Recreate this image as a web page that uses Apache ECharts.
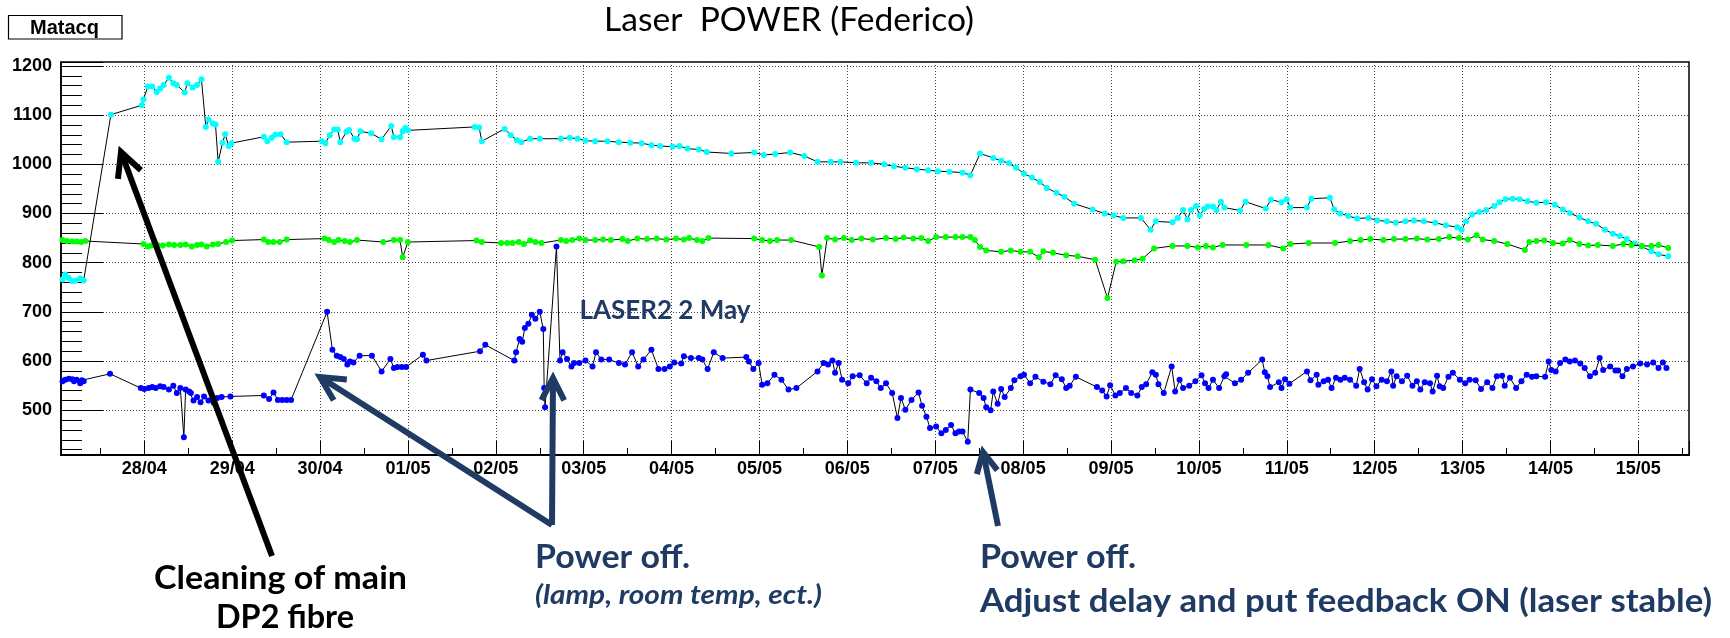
<!DOCTYPE html>
<html>
<head>
<meta charset="utf-8">
<title>Laser POWER (Federico)</title>
<script src="https://cdn.jsdelivr.net/npm/echarts@6/dist/echarts.min.js"></script>
<style>
  html, body { margin: 0; padding: 0; background: #fff; }
  #chart { width: 1730px; height: 638px; }
</style>
</head>
<body>
<div id="chart"></div>
<script>
// x = days since 27/04 00:00, y = Matacq laser power

// tick labels, one per day (index = day number)
const dayLabels = ['27/04', '28/04', '29/04', '30/04', '01/05', '02/05', '03/05', '04/05', '05/05', '06/05',
  '07/05', '08/05', '09/05', '10/05', '11/05', '12/05', '13/05', '14/05', '15/05']

// cyan series
const cyan = [
  [0.07, 766], [0.10, 776], [0.14, 769], [0.18, 762], [0.22, 764], [0.27, 768], [0.31, 764],
  [0.62, 1101], [0.97, 1120], [0.99, 1132], [1.04, 1158], [1.09, 1158], [1.14, 1147], [1.18, 1154], [1.22, 1161],
  [1.28, 1176], [1.33, 1165], [1.37, 1161], [1.46, 1146], [1.49, 1165], [1.55, 1156], [1.60, 1161], [1.65, 1173],
  [1.70, 1076], [1.73, 1091], [1.78, 1083], [1.81, 1081], [1.84, 1005], [1.89, 1044], [1.92, 1061], [1.96, 1037], [1.99, 1043],
  [2.36, 1056], [2.40, 1047], [2.45, 1054], [2.49, 1060], [2.55, 1061], [2.62, 1045],
  [3.02, 1047], [3.06, 1043], [3.11, 1059], [3.16, 1071], [3.20, 1071], [3.23, 1045], [3.30, 1066], [3.33, 1070],
  [3.39, 1052], [3.42, 1051], [3.46, 1067], [3.58, 1063], [3.70, 1051], [3.81, 1078], [3.84, 1055], [3.91, 1055],
  [3.94, 1067], [3.97, 1074], [4.00, 1069],
  [4.76, 1076], [4.81, 1075], [4.84, 1047], [5.10, 1072], [5.17, 1059], [5.24, 1049], [5.29, 1045], [5.39, 1052],
  [5.50, 1052], [5.74, 1052], [5.84, 1054], [5.93, 1052], [6.02, 1048],
  [6.13, 1047], [6.27, 1047], [6.40, 1045], [6.53, 1044], [6.66, 1043], [6.77, 1039], [6.87, 1037], [7.01, 1036],
  [7.09, 1037], [7.18, 1032], [7.31, 1030], [7.40, 1025],
  [7.68, 1022], [7.94, 1024], [8.05, 1019], [8.18, 1021], [8.35, 1024], [8.51, 1017], [8.66, 1005], [8.81, 1005],
  [8.92, 1005], [9.10, 1003], [9.27, 1003], [9.42, 1000], [9.53, 996], [9.66, 993], [9.79, 990], [9.92, 988],
  [10.03, 986], [10.16, 985], [10.31, 983], [10.40, 978],
  [10.51, 1022], [10.66, 1013], [10.75, 1007], [10.84, 1002], [10.92, 993], [11.01, 981], [11.10, 973], [11.19, 964],
  [11.27, 952], [11.38, 942], [11.47, 934], [11.58, 920], [11.79, 908], [11.93, 900], [12.03, 896], [12.14, 891],
  [12.34, 891], [12.45, 867], [12.51, 884],
  [12.70, 882], [12.76, 891], [12.82, 907], [12.87, 888], [12.91, 907], [12.97, 915], [13.01, 896], [13.06, 909],
  [13.10, 914], [13.16, 914], [13.20, 907], [13.25, 924], [13.29, 912], [13.47, 906], [13.53, 924], [13.76, 910],
  [13.82, 928], [13.94, 923], [14.00, 929], [14.04, 912], [14.23, 912], [14.28, 930], [14.49, 932],
  [14.54, 908], [14.61, 900], [14.70, 895], [14.80, 890], [14.93, 891], [15.03, 886], [15.14, 884], [15.24, 881],
  [15.35, 884], [15.45, 886], [15.56, 884], [15.69, 881], [15.81, 876], [15.94, 872], [15.99, 867],
  [16.04, 884], [16.11, 898], [16.19, 903], [16.27, 907], [16.36, 915], [16.42, 923], [16.49, 929], [16.57, 930],
  [16.65, 929], [16.74, 925], [16.84, 922], [16.95, 923], [17.05, 918], [17.14, 908], [17.22, 901], [17.33, 892],
  [17.43, 884], [17.52, 879], [17.62, 867], [17.71, 859], [17.79, 854], [17.87, 848], [17.96, 839], [18.04, 833],
  [18.15, 823], [18.23, 817], [18.34, 813]
]

// green series
const green = [
  [0.07, 846], [0.12, 844], [0.18, 843], [0.23, 843], [0.28, 842], [0.33, 844],
  [0.99, 838], [1.04, 833], [1.08, 835], [1.15, 836], [1.21, 835], [1.28, 837], [1.34, 836], [1.41, 836], [1.47, 837],
  [1.54, 833], [1.60, 836], [1.65, 837], [1.71, 833], [1.78, 837], [1.84, 838], [1.93, 842], [2.00, 845],
  [2.36, 847], [2.41, 842], [2.47, 842], [2.54, 842], [2.62, 847],
  [3.05, 849], [3.10, 846], [3.16, 842], [3.21, 846], [3.28, 844], [3.34, 842], [3.42, 846], [3.72, 842], [3.84, 846],
  [3.91, 846], [3.94, 811], [4.00, 842],
  [4.78, 845], [4.84, 842], [5.06, 840], [5.13, 840], [5.19, 840], [5.26, 842], [5.32, 838], [5.39, 845], [5.45, 842],
  [5.52, 840], [5.74, 846], [5.80, 844], [5.87, 846], [5.95, 849], [6.02, 846],
  [6.13, 846], [6.22, 847], [6.31, 846], [6.44, 848], [6.50, 844], [6.61, 849], [6.72, 848], [6.83, 849], [6.94, 847],
  [7.05, 849], [7.14, 847], [7.20, 850], [7.29, 846], [7.35, 844], [7.42, 850],
  [7.94, 849], [8.03, 846], [8.12, 844], [8.20, 846], [8.36, 846], [8.68, 832], [8.71, 774], [8.77, 850], [8.86, 847],
  [8.96, 850], [9.05, 846], [9.16, 849], [9.29, 847], [9.44, 850], [9.55, 848], [9.64, 851], [9.75, 849], [9.84, 850],
  [9.92, 844], [10.01, 852], [10.12, 852], [10.23, 852], [10.31, 852], [10.40, 852], [10.45, 846],
  [10.51, 832], [10.58, 825], [10.75, 822], [10.86, 825], [10.97, 822], [11.08, 822], [11.18, 811], [11.23, 823],
  [11.34, 820], [11.49, 815], [11.62, 813], [11.82, 806], [11.96, 728], [12.06, 802], [12.14, 803], [12.27, 805],
  [12.36, 808], [12.49, 829],
  [12.70, 834], [12.87, 834], [12.99, 831], [13.08, 834], [13.16, 831], [13.27, 836], [13.54, 836], [13.79, 836],
  [13.96, 829], [14.04, 838], [14.25, 840], [14.55, 840], [14.72, 844], [14.84, 846], [14.95, 848], [15.10, 846],
  [15.22, 848], [15.35, 848], [15.48, 849], [15.60, 847], [15.73, 848], [15.85, 852], [15.96, 850], [16.06, 847],
  [16.16, 856], [16.23, 847], [16.36, 844], [16.51, 838], [16.71, 826], [16.76, 842], [16.84, 844], [16.93, 845],
  [17.03, 840], [17.14, 839], [17.22, 846], [17.33, 838], [17.43, 835], [17.54, 836], [17.71, 834], [17.83, 838],
  [17.92, 836], [18.04, 834], [18.15, 834], [18.23, 836], [18.34, 830]
]

// blue series
const blue = [
  [0.07, 559], [0.10, 562], [0.14, 564], [0.18, 563], [0.20, 559], [0.23, 562], [0.27, 555], [0.29, 561], [0.31, 559],
  [0.61, 574],
  [0.96, 545], [1.00, 543], [1.05, 545], [1.09, 547], [1.13, 545], [1.18, 549], [1.22, 547], [1.28, 542], [1.33, 550],
  [1.37, 535], [1.41, 545], [1.45, 445], [1.47, 542], [1.51, 538], [1.53, 535], [1.56, 520], [1.60, 527], [1.64, 516],
  [1.68, 528], [1.73, 520], [1.79, 515], [1.83, 525], [1.88, 527], [1.98, 528],
  [2.36, 530], [2.42, 523], [2.47, 536], [2.52, 521], [2.57, 521], [2.62, 521], [2.67, 521],
  [3.08, 700], [3.14, 623], [3.19, 611], [3.23, 608], [3.27, 604], [3.31, 593], [3.34, 599], [3.38, 597], [3.45, 611],
  [3.59, 611], [3.70, 579], [3.80, 604], [3.84, 586], [3.88, 588], [3.93, 588], [3.98, 588], [4.17, 613], [4.21, 601],
  [4.82, 620], [4.88, 633], [5.21, 601], [5.23, 618], [5.27, 645], [5.30, 639], [5.33, 667], [5.37, 676], [5.41, 694],
  [5.45, 686], [5.50, 700], [5.54, 665], [5.55, 545], [5.56, 506], [5.69, 833], [5.73, 601], [5.76, 618], [5.81, 604],
  [5.86, 589], [5.89, 596], [5.95, 596], [6.02, 601], [6.10, 589], [6.14, 618],
  [6.20, 603], [6.29, 603], [6.40, 596], [6.47, 593], [6.55, 618], [6.62, 589], [6.68, 603], [6.77, 623], [6.85, 584],
  [6.92, 584], [6.98, 589], [7.03, 597], [7.11, 595], [7.14, 610], [7.22, 606], [7.31, 606], [7.35, 603], [7.41, 584],
  [7.48, 618], [7.58, 606],
  [7.85, 608], [7.88, 599], [7.93, 584], [7.99, 596], [8.03, 552], [8.09, 555], [8.17, 572], [8.25, 562], [8.33, 542],
  [8.42, 545], [8.66, 579], [8.73, 596], [8.78, 593], [8.83, 601], [8.86, 576], [8.90, 596], [8.94, 562], [9.01, 555],
  [9.06, 569], [9.14, 571], [9.22, 555], [9.27, 566], [9.33, 559], [9.38, 545], [9.44, 555], [9.51, 535], [9.57, 484],
  [9.61, 525], [9.66, 501], [9.73, 521], [9.81, 536], [9.85, 509], [9.90, 487], [9.94, 464], [10.01, 467], [10.07, 453],
  [10.12, 460], [10.18, 470], [10.23, 453], [10.27, 457], [10.31, 457], [10.37, 436],
  [10.40, 542], [10.50, 535], [10.55, 525], [10.58, 506], [10.63, 500], [10.66, 538], [10.71, 513], [10.75, 543],
  [10.79, 527], [10.86, 545], [10.90, 561], [10.97, 569], [11.01, 572], [11.08, 555], [11.14, 568], [11.23, 558],
  [11.31, 553], [11.37, 571], [11.44, 563], [11.49, 545], [11.53, 550], [11.60, 568], [11.84, 547], [11.90, 540],
  [11.95, 528], [11.99, 551], [12.05, 530], [12.10, 535], [12.17, 545], [12.23, 535], [12.30, 530], [12.35, 547],
  [12.40, 553], [12.47, 577], [12.51, 572], [12.54, 553], [12.60, 535], [12.69, 589], [12.73, 538], [12.78, 562],
  [12.82, 545], [12.89, 550], [12.96, 559], [13.03, 571], [13.07, 555], [13.11, 545], [13.16, 562], [13.23, 545],
  [13.29, 569], [13.31, 573], [13.41, 555], [13.48, 562], [13.56, 576],
  [13.72, 603], [13.75, 577], [13.78, 569], [13.81, 547], [13.91, 557], [13.94, 545], [13.98, 563], [14.03, 554],
  [14.23, 579], [14.27, 561], [14.34, 572], [14.36, 552], [14.42, 559], [14.47, 562], [14.51, 545], [14.56, 566],
  [14.61, 562], [14.66, 566], [14.72, 562], [14.79, 550], [14.83, 584], [14.88, 557], [14.92, 542], [14.97, 563],
  [15.02, 549], [15.08, 562], [15.14, 559], [15.19, 579], [15.21, 550], [15.25, 569], [15.31, 559], [15.37, 570],
  [15.43, 550], [15.48, 559], [15.52, 542], [15.57, 557], [15.63, 555], [15.66, 538], [15.71, 570], [15.74, 549],
  [15.78, 545], [15.84, 568], [15.89, 576], [15.97, 562], [16.03, 555], [16.08, 562], [16.15, 561], [16.21, 543],
  [16.28, 557], [16.34, 545], [16.39, 569], [16.45, 570], [16.48, 550], [16.54, 566], [16.61, 545], [16.67, 559],
  [16.73, 572], [16.79, 568], [16.84, 569], [16.94, 568], [16.98, 599], [17.01, 582], [17.06, 579], [17.11, 596],
  [17.17, 603], [17.22, 599], [17.28, 601], [17.34, 595], [17.39, 586], [17.45, 569], [17.51, 576], [17.56, 606],
  [17.60, 582], [17.68, 589], [17.74, 581], [17.77, 581], [17.82, 569], [17.87, 584], [17.94, 589], [18.02, 595],
  [18.10, 593], [18.17, 597], [18.23, 586], [18.28, 597], [18.32, 586]
]

const NAVY = '#1f3a63'

// arrow = shaft + open V head, in page pixels
function arrow(x1, y1, x2, y2, color, width, head) {
  const ang = Math.atan2(y1 - y2, x1 - x2)
  const spread = 27 * Math.PI / 180
  const w1 = [x2 + head * Math.cos(ang - spread), y2 + head * Math.sin(ang - spread)]
  const w2 = [x2 + head * Math.cos(ang + spread), y2 + head * Math.sin(ang + spread)]
  return [
    { type: 'polyline', z: 100, shape: { points: [[x1, y1], [x2, y2]] },
      style: { stroke: color, lineWidth: width, fill: null } },
    { type: 'polyline', z: 100, shape: { points: [w1, [x2, y2], w2] },
      style: { stroke: color, lineWidth: width, fill: null, lineJoin: 'miter' } }
  ]
}

// free text; when width is given the text is stretched to that width
const measureCtx = document.createElement('canvas').getContext('2d')
function note(text, x, y, font, color, align, width) {
  measureCtx.font = font
  const sx = width ? width / measureCtx.measureText(text).width : 1
  return {
    type: 'text', x, y, z: 100, scaleX: sx,
    style: {
      text, font, fill: color,
      align: align || 'left', verticalAlign: 'middle',
      textAlign: align || 'left', textVerticalAlign: 'middle'
    }
  }
}

function makeSeries(name, data, color, z) {
  return {
    name, type: 'line', data, z,
    symbol: 'circle', symbolSize: 6, showAllSymbol: true,
    itemStyle: { color },
    lineStyle: { color: '#000', width: 1 },
    emphasis: { disabled: true },
    animation: false
  }
}

const chart = echarts.init(document.getElementById('chart'))

const axisFont = { fontFamily: 'Liberation Sans', fontWeight: 'bold', fontSize: 18, color: '#000' }
const gridLine = { show: true, lineStyle: { color: '#444', width: 1, type: [1, 2] } }

const option = {
  animation: false,
  backgroundColor: '#fff',
  grid: {
    left: 61, right: 41, top: 62, bottom: 183,
    show: true, borderColor: '#000', borderWidth: 1.5,
    outerBoundsMode: 'none'
  },
  xAxis: {
    type: 'value',
    min: 0.052, max: 18.577,
    splitNumber: 18,
    axisLine: { lineStyle: { color: '#000', width: 2 } },
    axisTick: { inside: true, length: 14, lineStyle: { color: '#000', width: 1 } },
    minorTick: { show: true, splitNumber: 2, length: 7, lineStyle: { color: '#000', width: 1 } },
    splitLine: gridLine,
    axisLabel: Object.assign({
      margin: 5,
      showMinLabel: false, showMaxLabel: false,
      formatter: v => (Math.abs(v - Math.round(v)) < 1e-6 ? (dayLabels[Math.round(v)] || '') : '')
    }, axisFont)
  },
  yAxis: {
    type: 'value',
    min: 409, max: 1208,
    splitNumber: 8,
    axisLine: { show: true, lineStyle: { color: '#000', width: 1.5 } },
    axisTick: { show: true, inside: true, length: 42, lineStyle: { color: '#000', width: 1 } },
    minorTick: { show: true, splitNumber: 5, length: 21, lineStyle: { color: '#000', width: 1 } },
    splitLine: gridLine,
    axisLabel: Object.assign({
      margin: 9,
      formatter: v => (v % 100 === 0 ? String(v) : '')
    }, axisFont)
  },
  series: [
    makeSeries('cyan', cyan, '#00ffff', 2),
    makeSeries('green', green, '#00ff00', 3),
    makeSeries('blue', blue, '#0000ff', 4)
  ],
  graphic: {
    elements: [
      // stats box
      { type: 'rect', z: 100, shape: { x: 8.5, y: 15.5, width: 113.5, height: 23.5 },
        style: { fill: '#fff', stroke: '#000', lineWidth: 1.2 } },
      note('Matacq', 64.5, 28, 'bold 20px "Liberation Sans"', '#000', 'center'),
      // title
      note('Laser  POWER (Federico)', 604, 20.5, '33px Lato', '#000', 'left', 370),
      // annotations
      note('LASER2 2 May', 579.5, 310.5, 'bold 26px Lato', NAVY, 'left', 171),
      ...arrow(272, 556, 121, 152, '#000', 6, 27),
      note('Cleaning of main', 280.5, 578.5, 'bold 32px Lato', '#000', 'center', 253),
      note('DP2 fibre', 285, 617.5, 'bold 32px Lato', '#000', 'center', 138),
      ...arrow(552, 525, 320, 377, NAVY, 6, 27),
      ...arrow(552, 525, 553, 378, NAVY, 6, 25),
      note('Power off.', 535, 558, 'bold 32px Lato', NAVY, 'left', 155),
      note('(lamp, room temp, ect.)', 535, 595.5, 'italic bold 26px Lato', NAVY, 'left', 287),
      ...arrow(998, 526, 983, 452, NAVY, 6, 23),
      note('Power off.', 980, 558, 'bold 32px Lato', NAVY, 'left', 156),
      note('Adjust delay and put feedback ON (laser stable)', 980, 601.5, 'bold 32px Lato', NAVY, 'left', 732)
    ]
  }
}

chart.setOption(option)
</script>
</body>
</html>
